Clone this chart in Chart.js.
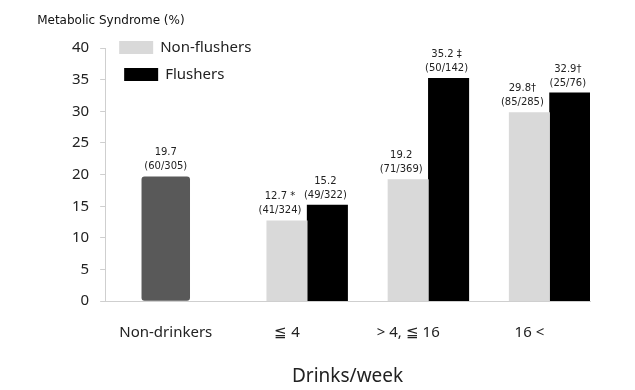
<!DOCTYPE html>
<html>
<head>
<meta charset="utf-8">
<script src="https://cdn.jsdelivr.net/npm/chart.js@4"></script>
<style>
  body { margin: 0; background: #fff; }
  #wrap { width: 635px; height: 390px; }
</style>
</head>
<body>
<div id="wrap"><canvas id="chart"></canvas></div>
<script>
// categories and values
const categories = ['Non-drinkers', '≦ 4', '> 4, ≦ 16', '16 <'];
const nonDrinkerValues = [19.7, null, null, null];
const nonDrinkerCounts = ['60/305', '', '', ''];
const nonDrinkerMarks = ['', '', '', ''];
const nonFlusherValues = [null, 12.7, 19.2, 29.8];
const nonFlusherCounts = ['', '41/324', '71/369', '85/285'];
const nonFlusherMarks = ['', ' *', '', '†'];
const flusherValues = [null, 15.2, 35.2, 32.9];
const flusherCounts = ['', '49/322', '50/142', '25/76'];
const flusherMarks = ['', '', ' ‡', '†'];
const yMin = 0, yMax = 40, yStep = 5;
const yTitle = 'Metabolic Syndrome (%)';
const xTitle = 'Drinks/week';

Chart.defaults.font.family = '"Noto Sans", sans-serif';
Chart.defaults.color = '#222';

// value + (n/N) above every bar
const barLabels = {
    id: 'barLabels',
    afterDatasetsDraw(chart) {
        const ctx = chart.ctx;
        ctx.save();
        ctx.font = '10px "DejaVu Sans"';
        ctx.fillStyle = '#222';
        ctx.textAlign = 'center';
        ctx.textBaseline = 'middle';
        chart.data.datasets.forEach((ds, i) => {
            chart.getDatasetMeta(i).data.forEach((bar, j) => {
                const v = ds.data[j];
                if (v === null) return;
                const x = bar.x + ds.labelShift;
                ctx.fillText(v.toFixed(1) + ds.marks[j], x, bar.y - 24);
                ctx.fillText('(' + ds.counts[j] + ')', x, bar.y - 10);
            });
        });
        ctx.restore();
    }
};

// legend inside the plot + y title at top left
const extras = {
    id: 'extras',
    afterDraw(chart) {
        const ctx = chart.ctx;
        const area = chart.chartArea;
        ctx.save();
        ctx.font = '12px "DejaVu Sans"';
        ctx.fillStyle = '#111';
        ctx.textBaseline = 'middle';
        ctx.fillText(yTitle, area.left - 68, area.top - 27);

        ctx.font = '15px "Noto Sans"';
        [1, 2].forEach((idx, row) => {
            const ds = chart.data.datasets[idx];
            const bx = area.left + 14 + row * 5;
            const by = area.top - 7 + row * 27;
            ctx.fillStyle = ds.backgroundColor;
            ctx.fillRect(bx, by, 34, 13);
            ctx.fillStyle = '#222';
            ctx.fillText(ds.label, bx + 41, by + 7);
        });
        ctx.restore();
    }
};

new Chart(document.getElementById('chart'), {
    type: 'bar',
    data: {
        labels: categories,
        datasets: [
            {
                label: 'Non-drinkers',
                data: nonDrinkerValues,
                counts: nonDrinkerCounts,
                marks: nonDrinkerMarks,
                labelShift: 0,
                backgroundColor: '#595959',
                borderRadius: 3,
                borderSkipped: false,
                skipNull: true,
                categoryPercentage: 0.4,
                barPercentage: 1
            },
            {
                label: 'Non-flushers',
                data: nonFlusherValues,
                counts: nonFlusherCounts,
                marks: nonFlusherMarks,
                labelShift: -7,
                backgroundColor: '#d9d9d9',
                categoryPercentage: 1,
                barPercentage: 1
            },
            {
                label: 'Flushers',
                data: flusherValues,
                counts: flusherCounts,
                marks: flusherMarks,
                labelShift: -2,
                backgroundColor: '#000000',
                categoryPercentage: 1,
                barPercentage: 1
            }
        ]
    },
    options: {
        responsive: true,
        maintainAspectRatio: false,
        animation: false,
        layout: { padding: { left: 61, right: 45, top: 48, bottom: 0 } },
        plugins: {
            legend: { display: false },
            tooltip: { enabled: false }
        },
        scales: {
            x: {
                grid: { display: false, drawTicks: false },
                border: { display: true, color: '#cfcfcf' },
                ticks: { padding: 23, font: { size: 15 }, color: '#222' },
                title: {
                    display: true,
                    text: xTitle,
                    font: { size: 19 },
                    color: '#222',
                    padding: { top: 0, bottom: 2 }
                }
            },
            y: {
                min: yMin,
                max: yMax,
                grid: { drawOnChartArea: false, drawTicks: true, tickLength: 5, color: '#cfcfcf' },
                border: { display: true, color: '#cfcfcf' },
                ticks: { stepSize: yStep, padding: 11, font: { size: 15 }, color: '#222' }
            }
        }
    },
    plugins: [barLabels, extras]
});
</script>
</body>
</html>
